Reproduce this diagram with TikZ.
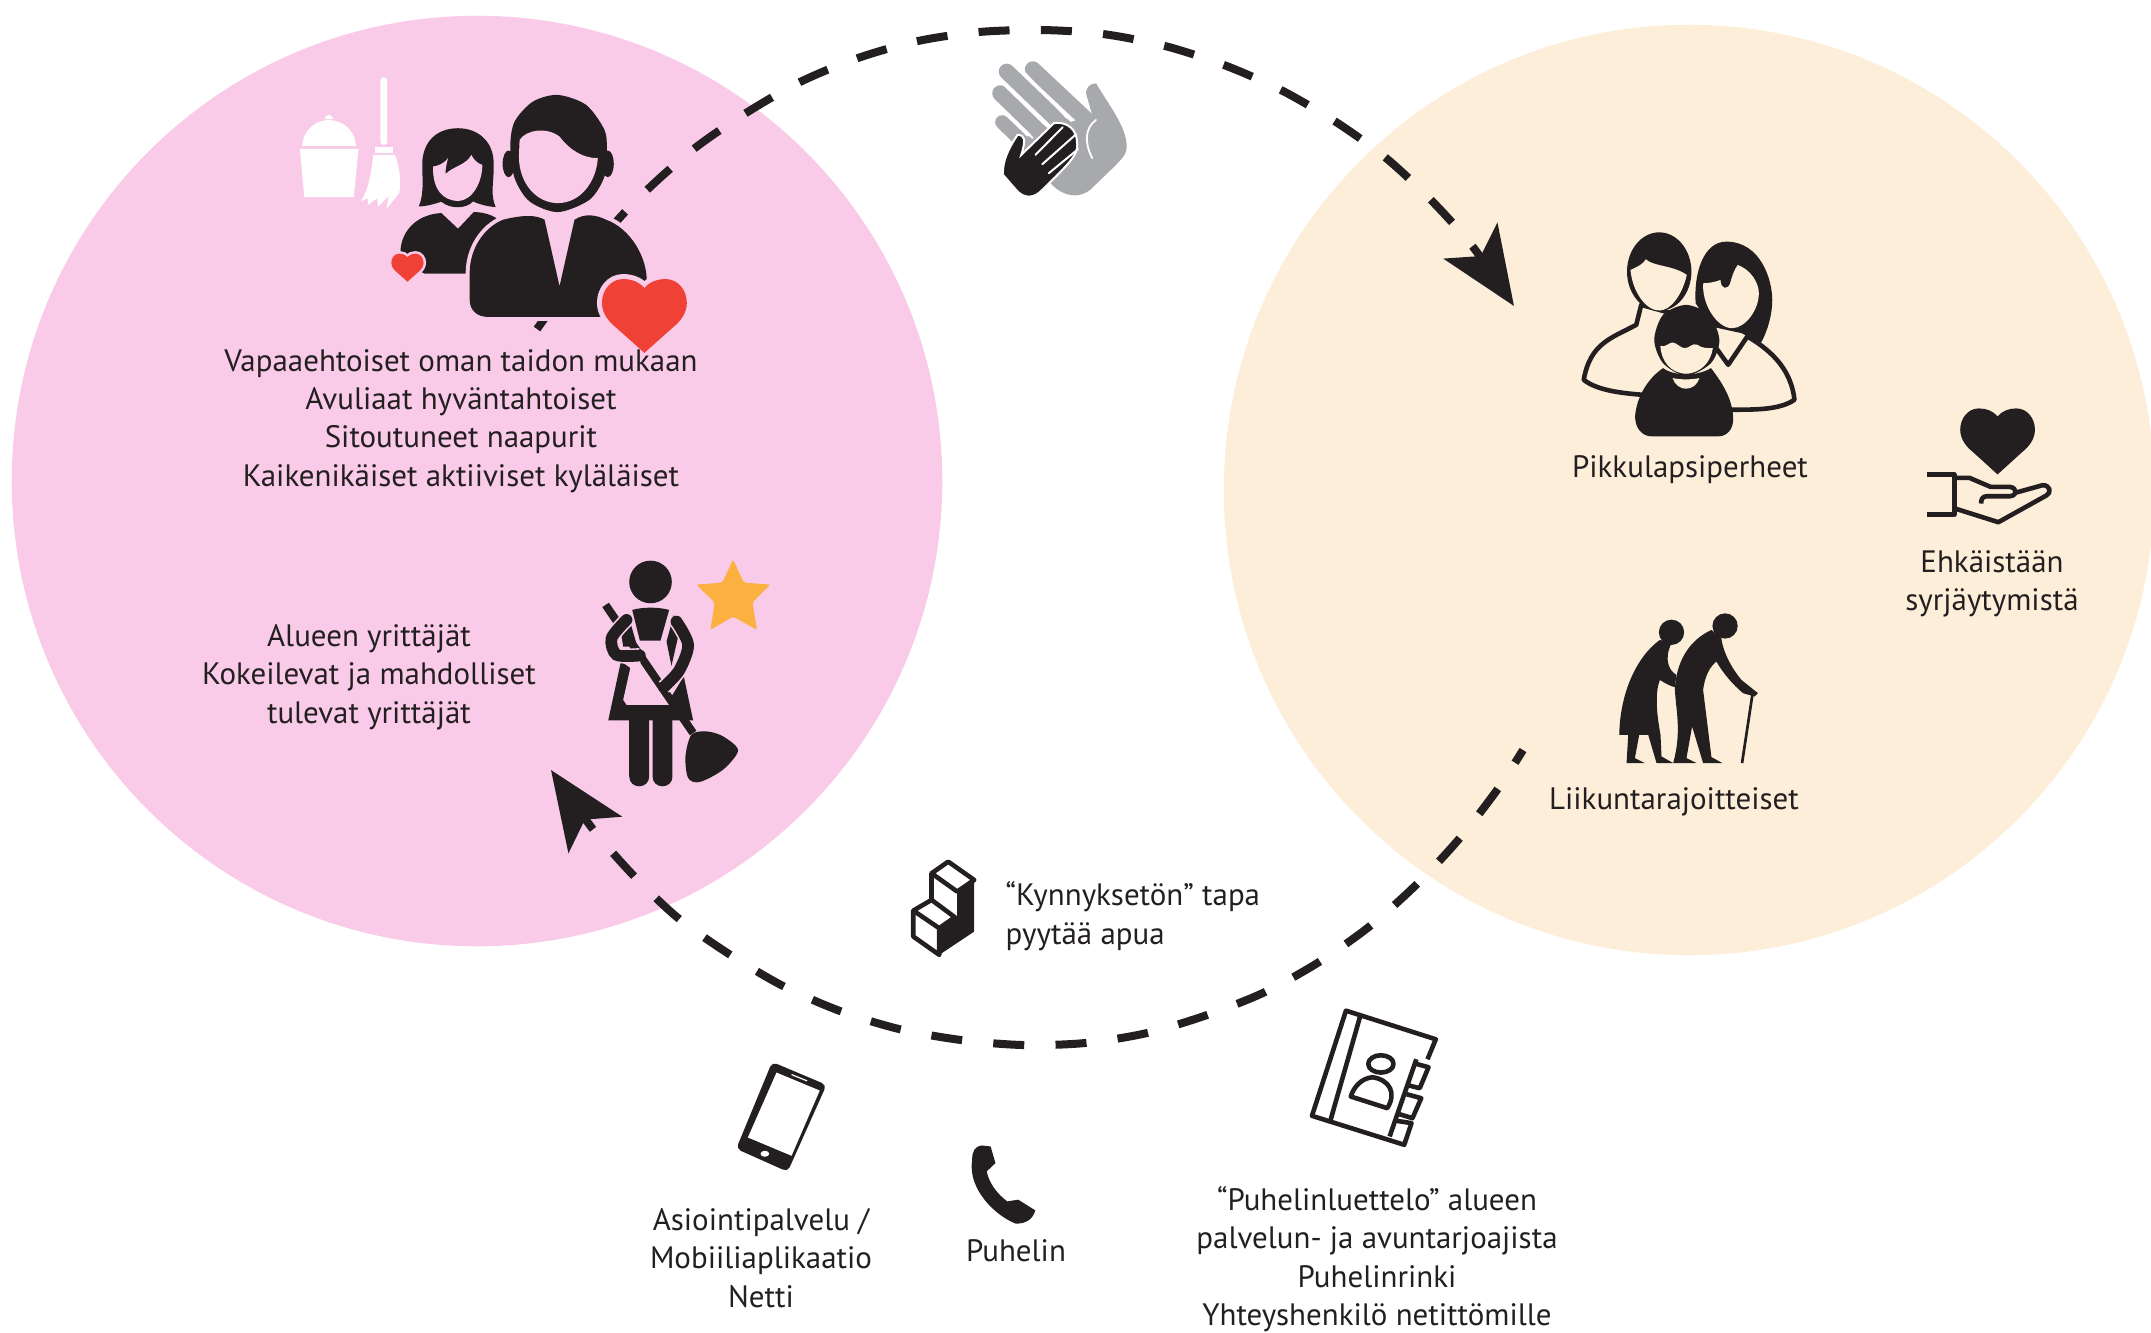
\documentclass[tikz,border=0pt]{standalone}
\usepackage{fontspec}
\setmainfont{PT Sans}
\usetikzlibrary{arrows.meta}
\definecolor{pinkbg}{HTML}{F9CBE8}
\definecolor{peachbg}{HTML}{FDEEDA}
\definecolor{iconblack}{HTML}{231F20}
\definecolor{heartred}{HTML}{EF4136}
\definecolor{stargold}{HTML}{FBB040}
\definecolor{handgrey}{HTML}{A7A9AC}
\newcommand{\heartpath}{(0,0) .. controls (-6,-7) and (-15,-10.5) .. (-25,-10.5) .. controls (-40,-10.5) and (-50,3) .. (-50,17.5) .. controls (-50,30) and (-42,40) .. (-33,47) -- (0,76.5) -- (33,47) .. controls (42,40) and (50,30) .. (50,17.5) .. controls (50,3) and (40,-10.5) .. (25,-10.5) .. controls (15,-10.5) and (6,-7) .. (0,0) -- cycle}
\begin{document}
\begin{tikzpicture}[x=0.01cm,y=-0.01cm,>={Stealth[length=0.78cm,width=0.64cm,inset=0.18cm]},
    label node/.style={align=center,text=iconblack,inner sep=0pt,font=\fontsize{8.8}{10.9}\selectfont},
    dash line/.style={draw=iconblack,line width=0.08cm,dash pattern=on 0.31cm off 0.313cm},
    ink/.style={fill=iconblack,draw=none},
    outline/.style={draw=iconblack,line width=0.046cm,line join=round}]
    \useasboundingbox (0,0) rectangle (2151,1332);

    \fill[pinkbg] (477,481) circle (4.65cm);
    \fill[peachbg] (1689,490) circle (4.65cm);

    \coordinate (upstart) at (537,329);
    \coordinate (uptip) at (1514,306);
    \coordinate (lowstart) at (1523,750);
    \coordinate (lowtip) at (551,770);
    \draw[dash line,dash phase=0.09cm,->] plot[smooth] coordinates {(upstart) (606,234) (647,190) (695,148) (746,113) (800,82) (858,58) (918,41) (979,32) (1042,30) (1103,34) (1165,46) (1224,65) (1281,90) (1336,122) (1386,158) (1432,201) (1473,247) (uptip)};
    \draw[dash line,dash phase=0.16cm,->] plot[smooth] coordinates {(lowstart) (1497,790) (1459,839) (1417,884) (1370,926) (1319,962) (1265,992) (1207,1015) (1147,1033) (1085,1043) (1023,1045) (961,1040) (899,1029) (840,1011) (783,986) (729,954) (678,918) (633,875) (592,828) (lowtip)};

    % volunteers
    \begin{scope}[shift={(270,50)},x=0.00333cm,y=-0.00333cm]
        \fill[white] (97,288) .. controls (100,240) and (135,212) .. (177,210) .. controls (220,212) and (255,240) .. (258,288) -- cycle;
        \fill[white] (164,208) .. controls (166,190) and (188,190) .. (190,208) -- cycle;
        \fill[white] (90,297) -- (266,297) -- (252,442) -- (103,442) -- cycle;
        \fill[white,rounded corners=0.03cm] (332,82) rectangle (352,285);
        \fill[white] (315,292) rectangle (370,308);
        \fill[white] (310,315) -- (375,315) .. controls (390,350) and (395,400) .. (388,430) -- (350,478) -- (357,438) -- (325,470) -- (322,445) -- (295,465) -- (293,445) -- (273,455) .. controls (295,420) and (305,370) .. (310,315) -- cycle;

        \fill[ink] (458,330) .. controls (465,265) and (510,235) .. (565,235) .. controls (625,235) and (672,275) .. (672,340) .. controls (674,400) and (660,430) .. (678,472) .. controls (650,470) and (625,462) .. (610,455) .. controls (590,478) and (540,478) .. (515,456) .. controls (495,462) and (470,470) .. (447,470) .. controls (465,430) and (456,380) .. (458,330) -- cycle;
        \fill[pinkbg] (490,350) .. controls (505,348) and (522,342) .. (535,325) .. controls (530,345) and (527,355) .. (528,372) .. controls (550,350) and (590,345) .. (605,315) .. controls (612,330) and (625,342) .. (638,345) .. controls (638,395) and (610,452) .. (565,454) .. controls (520,452) and (488,420) .. (490,350) -- cycle;
        \fill[ink] (515,490) -- (565,537) -- (612,487) .. controls (640,487) and (665,495) .. (680,505) -- (680,672) -- (465,672) -- (400,640) .. controls (375,590) and (410,495) .. (515,490) -- cycle;
        \path[fill=heartred,preaction={draw=pinkbg,line width=0.05cm},shift={(413,622)},scale=0.97] \heartpath;

        \fill[ink] (717,342) ellipse (18 and 40);
        \fill[ink] (1015,342) ellipse (18 and 40);
        \fill[ink] plot[smooth cycle] coordinates {(865,135) (950,165) (1005,240) (1012,300) (1005,380) (960,450) (865,487) (780,455) (735,385) (722,290) (735,215) (790,155)};
        \fill[pinkbg] (750,270) .. controls (770,240) and (830,230) .. (870,260) .. controls (900,300) and (940,325) .. (985,325) .. controls (980,400) and (930,460) .. (865,460) .. controls (800,460) and (748,400) .. (748,320) -- cycle;
        \path[fill=iconblack,preaction={draw=pinkbg,line width=0.08cm}] (825,510) .. controls (800,495) and (760,495) .. (700,510) .. controls (640,535) and (600,600) .. (600,670) -- (600,750) .. controls (600,785) and (625,802) .. (655,802) -- (1000,802) -- (1132,700) .. controls (1135,620) and (1080,535) .. (1010,510) .. controls (980,495) and (945,490) .. (915,510) -- (870,710) -- cycle;
        \path[fill=heartred,preaction={draw=pinkbg,line width=0.1cm},shift={(1125,715)},scale=2.55] \heartpath;
    \end{scope}

    % entrepreneur
    \begin{scope}[shift={(560,540)},x=0.00333cm,y=-0.00333cm]
        \fill[ink] (272,126) circle (64);
        \fill[ink] (217,210) .. controls (250,201) and (295,201) .. (328,210) -- (302,302) -- (240,302) -- cycle;
        \fill[ink] (205,225) -- (232,320) -- (190,320) -- (185,290) -- cycle;
        \fill[ink] (342,225) -- (320,305) -- (335,378) -- (355,290) -- cycle;
        \fill[ink] (183,365) -- (145,542) -- (400,542) -- (372,410) -- (335,470) -- cycle;
        \fill[pinkbg] (215,368) -- (190,480) -- (200,495) -- (330,495) -- (295,430) -- (250,365) -- cycle;
        \draw[iconblack,line width=0.08cm] (137,195) -- (400,580);
        \fill[ink] (208,540) -- (268,540) -- (268,710) .. controls (268,750) and (208,750) .. (208,710) -- cycle;
        \fill[ink] (278,540) -- (338,540) -- (338,710) .. controls (338,750) and (278,750) .. (278,710) -- cycle;
        \fill[ink] plot[smooth cycle] coordinates {(395,585) (440,575) (490,590) (535,632) (490,690) (420,727) (385,715) (377,650)};
        \draw[iconblack,line width=0.117cm,line cap=round,preaction={draw=pinkbg,line width=0.15cm}] plot[smooth] coordinates {(200,240) (155,295) (170,345) (240,347)};
        \draw[iconblack,line width=0.117cm,line cap=round,preaction={draw=pinkbg,line width=0.15cm}] plot[smooth] coordinates {(350,245) (385,315) (358,392) (312,442)};
        \fill[stargold,rounded corners=0.02cm] (520,58) -- (552,128) -- (632,134) -- (578,188) -- (592,270) -- (520,230) -- (452,270) -- (465,188) -- (410,134) -- (488,128) -- cycle;
    \end{scope}

    % hands
    \begin{scope}[shift={(960,40)},x=0.003827cm,y=-0.00333cm]
        \fill[handgrey] (355,130) .. controls (385,190) and (435,260) .. (435,320) .. controls (435,350) and (420,360) .. (340,450) .. controls (310,478) and (270,470) .. (240,435) -- (150,300) -- (345,225) -- (330,165) .. controls (325,145) and (340,130) .. (355,130) -- cycle;
        \draw[handgrey,line width=0.16cm,line cap=round] (190,88) -- (340,250);
        \draw[handgrey,line width=0.16cm,line cap=round] (122,95) -- (280,270);
        \draw[handgrey,line width=0.16cm,line cap=round] (105,160) -- (230,300);
        \draw[handgrey,line width=0.14cm,line cap=round] (110,247) -- (180,325);
        \draw[white,line width=0.018cm] (170,100) -- (280,235);
        \draw[white,line width=0.018cm] (115,135) -- (225,258);
        \draw[white,line width=0.018cm] (125,225) -- (190,295);
        \draw[white,line width=0.018cm,line cap=round] (355,240) .. controls (325,265) and (325,310) .. (345,355);
        \path[fill=iconblack,draw=white,line width=0.02cm] (150,285) .. controls (170,285) and (172,300) .. (160,345) -- (245,250) .. controls (265,245) and (300,255) .. (305,300) .. controls (310,340) and (300,355) .. (215,450) .. controls (195,475) and (170,478) .. (150,455) -- (112,405) .. controls (110,360) and (130,320) .. (150,285) -- cycle;
        \draw[white,line width=0.02cm,line cap=round] (197,345) -- (268,262);
        \draw[white,line width=0.02cm,line cap=round] (215,373) -- (303,283);
        \draw[white,line width=0.02cm,line cap=round] (232,400) -- (308,328);
    \end{scope}

    % family
    \begin{scope}[shift={(1550,220)},x=0.003827cm,y=-0.00333cm]
        \draw[outline,fill=peachbg] (238,255) -- (225,315) .. controls (160,355) and (105,370) .. (88,480) .. controls (120,510) and (180,520) .. (240,525) -- (475,570) .. controls (540,570) and (600,570) .. (638,540) .. controls (630,460) and (590,400) .. (515,350) -- (465,435) -- (440,395) -- (380,300) -- cycle;
        \fill[ink] (285,155) ellipse (84 and 118);
        \fill[peachbg] (210,150) .. controls (230,140) and (245,130) .. (250,118) .. controls (270,140) and (320,135) .. (357,165) .. controls (345,225) and (315,272) .. (285,272) .. controls (250,272) and (215,215) .. (210,150) -- cycle;
        \fill[ink] (380,250) .. controls (375,160) and (400,65) .. (460,65) .. controls (550,65) and (580,180) .. (580,240) .. controls (580,290) and (565,340) .. (550,370) -- (500,340) -- (420,320) -- cycle;
        \fill[peachbg] (400,190) .. controls (415,190) and (435,185) .. (445,180) .. controls (445,210) and (465,210) .. (470,190) .. controls (475,170) and (480,150) .. (490,135) .. controls (525,150) and (545,190) .. (545,220) .. controls (545,270) and (510,325) .. (475,325) .. controls (435,325) and (395,250) .. (400,190) -- cycle;
        \fill[ink] plot[smooth cycle] coordinates {(355,255) (415,285) (442,360) (420,430) (355,468) (295,430) (272,360) (295,285)};
        \fill[peachbg] (288,378) .. controls (300,385) and (310,368) .. (320,368) .. controls (330,368) and (340,385) .. (352,385) .. controls (365,385) and (370,368) .. (385,375) .. controls (395,385) and (410,385) .. (425,385) .. controls (420,425) and (395,460) .. (355,462) .. controls (315,460) and (290,425) .. (288,378) -- cycle;
        \fill[ink] (295,445) .. controls (325,470) and (385,470) .. (420,445) .. controls (450,490) and (478,540) .. (478,600) .. controls (478,630) and (460,650) .. (440,650) -- (265,650) .. controls (240,650) and (222,625) .. (222,590) .. controls (225,540) and (250,480) .. (295,445) -- cycle;
        \fill[peachbg] (320,475) .. controls (340,480) and (370,480) .. (390,475) .. controls (385,495) and (370,507) .. (355,507) .. controls (340,507) and (325,495) .. (320,475) -- cycle;
        % giving hand
        \path[fill=iconblack,shift={(1168,590)},xscale=1.95,yscale=2.28] \heartpath;
        \draw[outline] (985,765) -- (1055,765) -- (1055,885) -- (985,885);
        \draw[outline] (1055,775) -- (1095,775) -- (1150,802) -- (1200,802) .. controls (1220,805) and (1220,828) .. (1200,830) -- (1140,830) .. controls (1128,830) and (1125,840) .. (1125,852);
        \draw[outline] (1213,820) -- (1285,797) .. controls (1305,795) and (1310,820) .. (1295,828) -- (1170,908) -- (1060,868);
    \end{scope}

    % elderly
    \begin{scope}[shift={(1560,600)},x=0.00333cm,y=-0.00333cm]
        \fill[ink] (335,97) circle (38);
        \fill[ink] (496,78) circle (38);
        \fill[ink] (300,120) .. controls (230,170) and (180,280) .. (178,405) -- (205,405) -- (200,490) -- (255,490) -- (225,475) -- (238,405) -- (265,405) -- (290,490) -- (340,490) -- (305,470) -- (302,405) .. controls (290,340) and (285,280) .. (300,240) .. controls (315,250) and (330,258) .. (345,262) -- (350,225) .. controls (330,215) and (310,180) .. (335,130) -- cycle;
        \fill[ink] (455,90) .. controls (400,115) and (350,170) .. (345,270) .. controls (350,340) and (365,400) .. (340,490) -- (410,490) -- (380,475) -- (397,380) -- (430,490) -- (488,490) -- (455,472) -- (430,270) .. controls (435,230) and (450,200) .. (470,185) .. controls (490,220) and (520,255) .. (550,280) -- (585,290) -- (595,280) -- (545,240) .. controls (520,210) and (490,160) .. (485,115) -- cycle;
        \draw[iconblack,line width=0.027cm] (578,285) -- (547,490);
    \end{scope}

    % steps
    \begin{scope}[shift={(880,840)},x=0.00333cm,y=-0.00333cm]
        \fill[ink] (283,120) -- (283,275) -- (178,345) -- (178,265) -- (232,228) -- (232,155) -- cycle;
        \draw[outline] (205,65) -- (283,120) -- (232,155) -- (155,100) -- cycle;
        \draw[outline] (155,100) -- (155,180);
        \draw[outline] (155,180) -- (225,232) -- (178,265) -- (100,212) -- cycle;
        \draw[outline] (100,212) -- (100,290) -- (178,345) -- (178,265);
    \end{scope}

    % phone, handset and directory
    \begin{scope}[shift={(710,1000)},x=0.004847cm,y=-0.00333cm]
        \fill[ink,rounded corners=0.05cm] (128,186) -- (240,255) -- (160,516) -- (54,447) -- cycle;
        \fill[white] (137,218) -- (226,272) -- (168,468) -- (78,413) -- cycle;
        \draw[white,line width=0.012cm] (168,224) -- (200,243);
        \fill[white] (113,462) circle (9);
        \fill[ink] (540,480) .. controls (540,455) and (545,440) .. (560,437) -- (578,440) -- (588,490) -- (570,515) .. controls (575,550) and (590,580) .. (612,605) -- (635,600) -- (670,632) .. controls (665,660) and (650,672) .. (630,672) .. controls (590,650) and (530,570) .. (540,480) -- cycle;
        \draw[outline] (1478,178) -- (1495,118) -- (1310,32) -- (1240,348) -- (1430,435) -- (1445,370) -- (1410,362);
        \draw[outline] (1340,45) -- (1278,362);
        \draw[outline] (1455,178) -- (1400,410);
        \draw[outline] (1450,190) -- (1480,202) -- (1462,265) -- (1435,255);
        \draw[outline] (1435,283) -- (1465,295) -- (1447,355) -- (1420,343);
        \draw[outline] (1382,192) ellipse (26 and 26);
        \draw[outline] (1320,290) -- (1395,325) .. controls (1415,280) and (1400,240) .. (1365,232) .. controls (1340,235) and (1325,265) .. (1320,290) -- cycle;
    \end{scope}

    \node[label node] (volunteers) at (461,421) {Vapaaehtoiset oman taidon mukaan\\Avuliaat hyväntahtoiset\\Sitoutuneet naapurit\\Kaikenikäiset aktiiviset kyläläiset};
    \node[label node] (entrepreneurs) at (369,677) {Alueen yrittäjät\\Kokeilevat ja mahdolliset\\tulevat yrittäjät};
    \node[label node] (families) at (1690,470) {Pikkulapsiperheet};
    \node[label node] (prevent) at (1992,584) {Ehkäistään\\syrjäytymistä};
    \node[label node] (mobility) at (1674,802) {Liikuntarajoitteiset};
    \node[label node,align=left,anchor=west] (threshold) at (1005,916) {“Kynnyksetön” tapa\\pyytää apua};
    \node[label node] (service) at (761,1258) {Asiointipalvelu /\\Mobiiliaplikaatio\\Netti};
    \node[label node] (phone) at (1016,1251) {Puhelin};
    \node[label node] (directory) at (1377,1259) {“Puhelinluettelo” alueen\\palvelun- ja avuntarjoajista\\Puhelinrinki\\Yhteyshenkilö netittömille};
\end{tikzpicture}
\end{document}
